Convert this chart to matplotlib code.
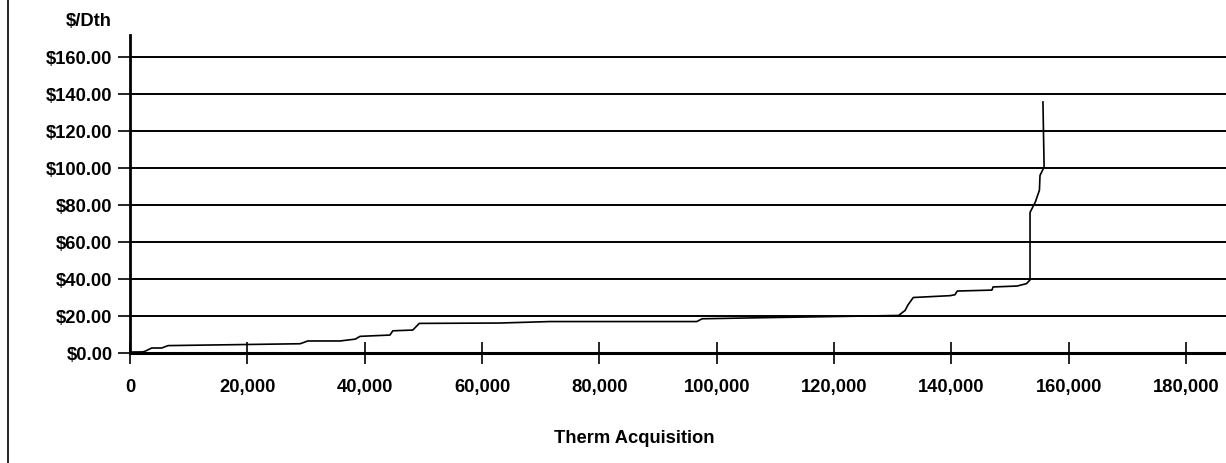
import matplotlib
matplotlib.use("Agg")
import matplotlib.pyplot as plt
import matplotlib.ticker as mticker
from matplotlib.lines import Line2D

therms = [0, 2200, 2600, 3700, 5400, 6500, 29000, 30300, 35800, 38400, 39200,
          44300, 44800, 48200, 49300, 63000, 71600, 96600, 97500, 110000,
          125600, 131000, 132100, 132600, 133500, 139800, 140600, 141000,
          146900, 147100, 151200, 152800, 153400, 153400, 154300, 155000,
          155100, 155800, 155600]
price = [0.5, 0.6, 1.0, 2.7, 2.7, 4.0, 5.0, 6.5, 6.5, 7.5, 9.0,
         9.7, 12.0, 12.4, 16.0, 16.2, 17.0, 17.0, 18.5, 19.2,
         20.0, 20.3, 23.0, 26.0, 30.0, 31.0, 31.5, 33.5,
         34.0, 35.7, 36.2, 37.5, 39.5, 76.0, 81.6, 88.0,
         96.0, 100.5, 135.7]

y_ticks = [0, 20, 40, 60, 80, 100, 120, 140, 160]
x_ticks = [0, 20000, 40000, 60000, 80000, 100000, 120000, 140000, 160000, 180000]

plt.rcParams["font.family"] = ["Liberation Sans", "DejaVu Sans"]
FS = 13.2

fig = plt.figure(figsize=(12.26, 4.63), dpi=100)
ax = fig.add_axes([130 / 1226, 110 / 463, 1096 / 1226, 318 / 463])

for v in y_ticks:
    ax.axhline(v, color="black", linewidth=1.4, zorder=1)

ax.plot(therms, price, color="black", linewidth=1.2, zorder=3)

ax.set_xlim(0, 186800)
ax.set_ylim(0, 171.9)
ax.set_xticks(x_ticks)
ax.set_yticks(y_ticks)
ax.xaxis.set_major_formatter(mticker.FuncFormatter(lambda v, p: f"{v:,.0f}"))
ax.yaxis.set_major_formatter(mticker.FuncFormatter(lambda v, p: f"${v:,.2f}"))

for s in ("top", "right"):
    ax.spines[s].set_visible(False)
ax.spines["left"].set_linewidth(2.0)
ax.spines["bottom"].set_linewidth(2.2)
ax.spines["left"].set_zorder(4)

ax.tick_params(axis="x", direction="inout", length=16, width=1.2, pad=10.5,
               labelsize=FS)
ax.tick_params(axis="y", direction="out", length=8.6, width=1.2, pad=4,
               labelsize=FS)
for lab in ax.get_xticklabels() + ax.get_yticklabels():
    lab.set_fontweight("bold")

fig.text(112 / 1226, 1 - 22 / 463, "$/Dth", ha="right", va="center",
         fontsize=FS, fontweight="bold")
fig.text(634 / 1226, 1 - 443 / 463, "Therm Acquisition", ha="center",
         va="baseline", fontsize=FS, fontweight="bold")

# scanned page frame on the left
fig.add_artist(Line2D([8 / 1226, 8 / 1226], [0, 1], color="black",
                      linewidth=1.2, transform=fig.transFigure))

fig.savefig("out.png", dpi=100)
